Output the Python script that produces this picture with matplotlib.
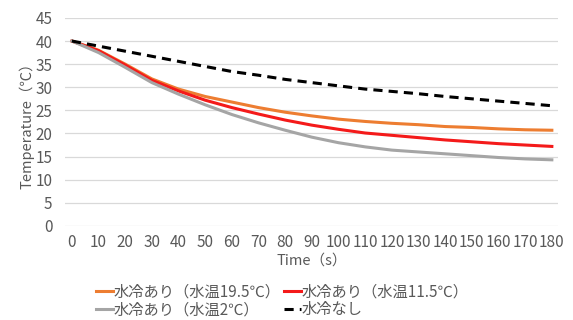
import numpy as np
import matplotlib
matplotlib.use('Agg')
import matplotlib.pyplot as plt

plt.rcParams['font.family'] = ['Noto Sans CJK JP', 'DejaVu Sans']

# time (s)
time_s = [0, 10, 20, 30, 40, 50, 60, 70, 80, 90, 100, 110, 120, 130, 140, 150, 160, 170, 180]

# water cooling, water temp 19.5C
temp_w195 = [40, 38.0, 35.0, 31.8, 29.6, 28.0, 26.8, 25.6, 24.6, 23.8, 23.1, 22.6, 22.2, 21.9, 21.5, 21.3, 21.0, 20.8, 20.7]
# water cooling, water temp 11.5C
temp_w115 = [40, 37.9, 34.8, 31.5, 29.2, 27.2, 25.6, 24.2, 22.9, 21.8, 20.9, 20.1, 19.6, 19.1, 18.6, 18.2, 17.8, 17.5, 17.2]
# water cooling, water temp 2C
temp_w2 = [40, 37.5, 34.3, 31.0, 28.5, 26.2, 24.1, 22.3, 20.7, 19.2, 18.0, 17.1, 16.4, 16.0, 15.6, 15.2, 14.8, 14.5, 14.3]
# no water cooling
temp_none = [40, 38.9, 37.8, 36.7, 35.6, 34.5, 33.4, 32.6, 31.7, 31.0, 30.3, 29.6, 29.1, 28.6, 28.0, 27.5, 27.0, 26.5, 26.0]

labels = ['水冷あり（水温19.5℃）', '水冷あり（水温11.5℃）', '水冷あり（水温2℃）', '水冷なし']

txt = '#595959'

fig = plt.figure(figsize=(5.73, 3.20), dpi=100)
ax = fig.add_axes([0.1134, 0.294, 0.8604, 0.650])

l1, = ax.plot(time_s, temp_w195, color='#ED7D31', lw=2.2, label=labels[0])
l2, = ax.plot(time_s, temp_w115, color='#F41A1A', lw=2.2, label=labels[1])
l3, = ax.plot(time_s, temp_w2, color='#A5A5A5', lw=2.2, label=labels[2])
l4, = ax.plot(time_s, temp_none, color='black', lw=2.2, ls=(0, (3, 2)), label=labels[3])

ax.set_xlim(-2.6, 182.3)
ax.set_ylim(0, 45)
ax.set_xticks(time_s)
ax.set_yticks(range(0, 46, 5))
ax.grid(axis='y', color='#D9D9D9', lw=0.9)
ax.set_axisbelow(True)
for s in ax.spines.values():
	s.set_visible(False)
ax.tick_params(length=0, labelsize=11, colors=txt)
ax.tick_params(axis='y', pad=9)
ax.tick_params(axis='x', pad=6)

ax.set_xlabel('Time（s）', fontsize=10.5, color=txt, labelpad=2)
ax.set_ylabel('Temperature（℃）', fontsize=10.5, color=txt, labelpad=1)

# legend filled column-wise, so order for row layout
fig.legend([l1, l3, l2, l4], [labels[0], labels[2], labels[1], labels[3]], ncol=2,
		   loc='upper left', bbox_to_anchor=(0.168, 0.114),
		   frameon=False, fontsize=11, labelcolor=txt, handlelength=1.1,
		   handletextpad=0.05, columnspacing=0.2, borderaxespad=0, borderpad=0,
		   labelspacing=0.05)

fig.savefig('out.png', dpi=100)
